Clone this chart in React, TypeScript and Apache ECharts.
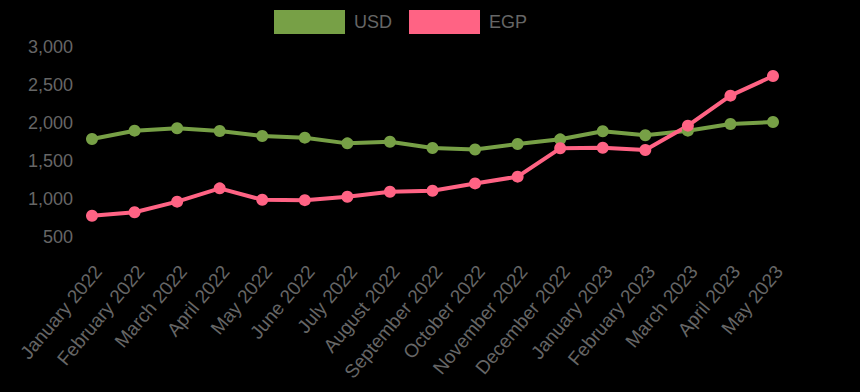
import React, { useEffect, useRef } from "react";
import * as echarts from "echarts";

const categories = [
  "January 2022", "February 2022", "March 2022", "April 2022", "May 2022", "June 2022",
  "July 2022", "August 2022", "September 2022", "October 2022", "November 2022", "December 2022",
  "January 2023", "February 2023", "March 2023", "April 2023", "May 2023",
];
const usdValues = [1790, 1899, 1930, 1895, 1829, 1807, 1732, 1754, 1671, 1652, 1724, 1785, 1891, 1838, 1899, 1987, 2013];
const egpValues = [780, 825, 965, 1140, 990, 985, 1030, 1096, 1109, 1205, 1294, 1667, 1675, 1645, 1965, 2360, 2618];
const yMin = 500;
const yMax = 3000;
const yStep = 500;

const GREEN = "#77a046";
const PINK = "#ff6384";
const TEXT = "#666666";
const FONT = "'Liberation Sans', Arial, Helvetica, sans-serif";

export default function App() {
  const ref = useRef<HTMLDivElement>(null);
  useEffect(() => {
    if (!ref.current) return;
    const chart = echarts.init(ref.current, null, { renderer: "svg" });
    chart.setOption({
      animation: false,
      backgroundColor: "#000000",
      textStyle: { fontFamily: FONT },
      legend: {
        top: 10,
        left: 274,
        padding: 0,
        itemWidth: 71,
        itemHeight: 24,
        itemGap: 17,
        icon: "rect",
        textStyle: { color: TEXT, fontSize: 18, fontFamily: FONT, padding: [0, 0, 0, 4] },
        data: [
          { name: "USD", itemStyle: { color: GREEN } },
          { name: "EGP", itemStyle: { color: PINK } },
        ],
      },
      grid: [
        { left: 92, right: 87, top: 47, bottom: 155, containLabel: false },
        { left: 98, right: 81, top: 47, bottom: 155, containLabel: false },
      ],
      xAxis: [
        {
          type: "category",
          gridIndex: 0,
          data: categories,
          boundaryGap: false,
          axisLine: { show: false },
          axisTick: { show: false },
          splitLine: { show: false },
          axisLabel: { show: false },
        },
        {
          type: "category",
          gridIndex: 1,
          data: categories,
          boundaryGap: false,
          axisLine: { show: false },
          axisTick: { show: false },
          splitLine: { show: false },
          axisLabel: {
            rotate: 50,
            margin: 31,
            color: TEXT,
            fontSize: 19,
            fontFamily: FONT,
            interval: 0,
          },
        },
      ],
      yAxis: [
        {
          type: "value",
          gridIndex: 0,
          min: yMin,
          max: yMax,
          interval: yStep,
          axisLine: { show: false },
          axisTick: { show: false },
          splitLine: { show: false },
          axisLabel: {
            margin: 19,
            color: TEXT,
            fontSize: 18,
            fontFamily: FONT,
            formatter: (v: number) => v.toLocaleString("en-US"),
          },
        },
        {
          type: "value",
          gridIndex: 1,
          min: 0,
          max: 1,
          show: false,
        },
      ],
      series: [
        {
          name: "USD",
          type: "line",
          data: usdValues,
          symbol: "circle",
          symbolSize: 12,
          lineStyle: { color: GREEN, width: 4 },
          itemStyle: { color: GREEN },
        },
        {
          name: "EGP",
          type: "line",
          data: egpValues,
          symbol: "circle",
          symbolSize: 12,
          lineStyle: { color: PINK, width: 4 },
          itemStyle: { color: PINK },
        },
      ],
    });
    return () => chart.dispose();
  }, []);
  return <div ref={ref} style={{ width: 860, height: 392, position: "absolute", left: 0, top: 0 }} />;
}
